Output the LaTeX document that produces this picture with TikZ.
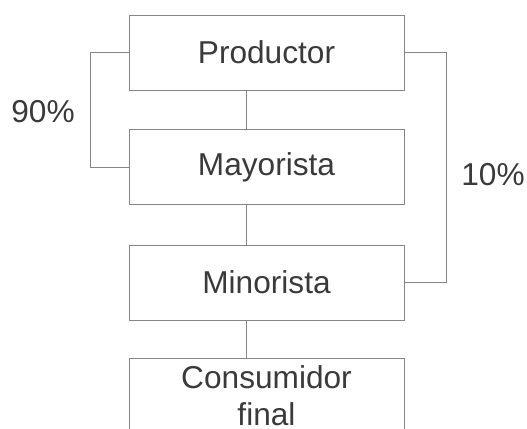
\documentclass[tikz,border=0pt]{standalone}
\usepackage{fontspec}
\setmainfont{Liberation Sans}
\definecolor{linegray}{HTML}{858585}
\definecolor{textgray}{HTML}{3A3A3A}
\begin{document}
\begin{tikzpicture}[every node/.style={rectangle, draw=linegray, line width=0.5pt, text=textgray, minimum width=5.5cm, minimum height=1.5cm, align=center, font=\fontsize{18}{21}\selectfont}]
			\clip (0,0) rectangle (10.54,8.58);
			% \draw[help lines] (0,0) grid (10,8);
			\node (prod) at (5.33,7.53) [] {Productor};
			\node (may) at (5.33,5.24) [] {Mayorista};
			\node (mino) at (5.33,2.93) [] {Minorista};
			\node (cons) at (5.33,0.67) [] {Consumidor\\final};

			% straight chain
			\coordinate (axis) at (4.92,0);
			\draw[linegray, line width=0.5pt] (prod.south -| axis) -- (may.north -| axis);
			\draw[linegray, line width=0.5pt] (may.south -| axis) -- (mino.north -| axis);
			\draw[linegray, line width=0.5pt] (mino.south -| axis) -- (cons.north -| axis);

			% left loop
			\coordinate (lft) at (1.8,0);
			\draw[linegray, line width=0.5pt] (prod.west) -- (prod.west -| lft) -- (may.west -| lft) -- (may.west);
			\node[draw=none, minimum width=0pt, minimum height=0pt] (ninety) at (0.86,6.34) [] {90\%};

			% right loop
			\coordinate (rgt) at (8.92,0);
			\draw[linegray, line width=0.5pt] (prod.east) -- (prod.east -| rgt) -- (mino.east -| rgt) -- (mino.east);
			\node[draw=none, minimum width=0pt, minimum height=0pt] (ten) at (9.86,5.08) [] {10\%};
		\end{tikzpicture}
\end{document}
